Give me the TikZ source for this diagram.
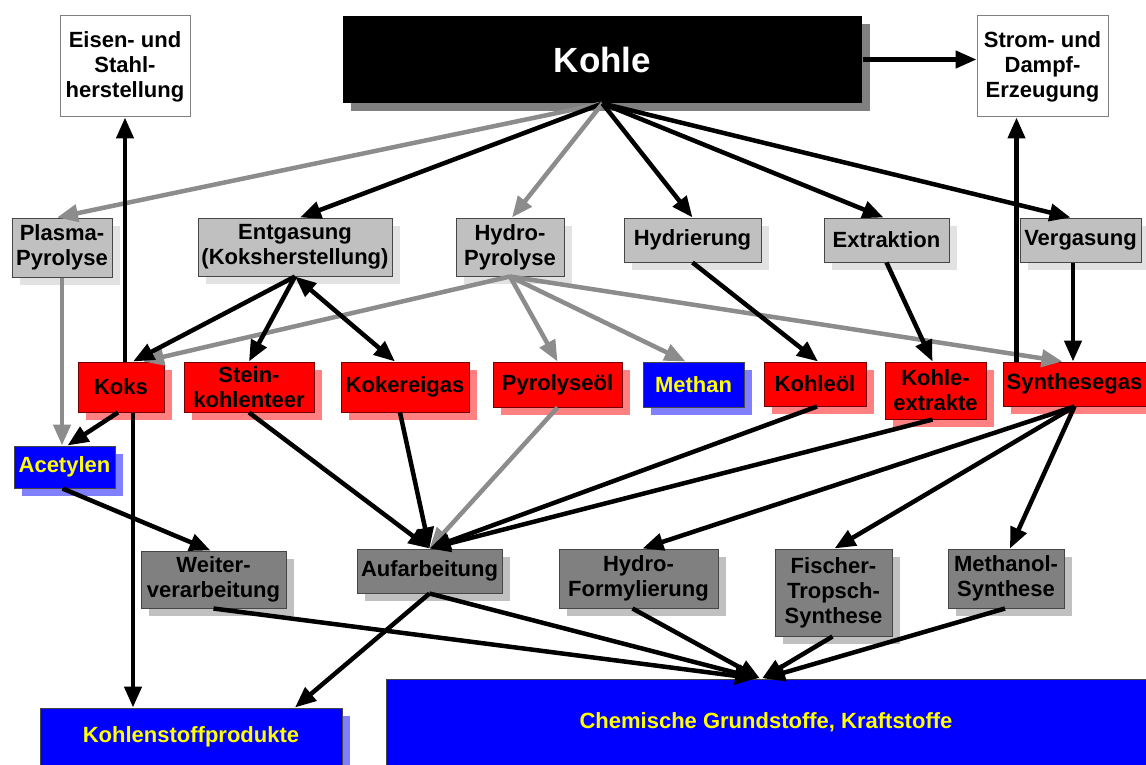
\documentclass[tikz,border=0pt]{standalone}
\usepackage{fontspec}
\setmainfont{Liberation Sans}
\usetikzlibrary{arrows.meta,shadows,calc}
\definecolor{lg}{RGB}{192,192,192}
\definecolor{lgs}{RGB}{226,226,226}
\definecolor{dg}{RGB}{128,128,128}
\definecolor{dgs}{RGB}{192,192,192}
\definecolor{rd}{RGB}{255,0,0}
\definecolor{rds}{RGB}{255,128,128}
\definecolor{bl}{RGB}{0,0,255}
\definecolor{bls}{RGB}{128,128,255}
\definecolor{yl}{RGB}{255,255,0}
\definecolor{ag}{RGB}{140,140,140}
\definecolor{bd}{RGB}{70,70,70}
\begin{document}
\begin{tikzpicture}[x=1pt,y=-1pt,
 box/.style={rectangle, inner sep=0pt, align=center, line width=1pt, font=\fontsize{22}{25}\selectfont\bfseries},
 sh/.style={drop shadow={shadow xshift=8pt, shadow yshift=-8pt, fill=#1, opacity=1}},
 wbox/.style={box, draw=dg, fill=white},
 lbox/.style={box, draw=bd, fill=lg, sh=lgs},
 dbox/.style={box, draw=bd, fill=dg, sh=dgs},
 rbox/.style={box, draw=rd!45!black, fill=rd, sh=rds},
 bbox/.style={box, draw=bd, fill=bl, sh=bls, text=yl},
 arr/.style={line width=4.5pt, -{Triangle[length=21pt,width=17pt]}},
 darr/.style={line width=4.5pt, {Triangle[length=21pt,width=17pt]}-{Triangle[length=21pt,width=17pt]}},
 garr/.style={arr, color=ag}
]
\useasboundingbox (0,0) rectangle (1146,765);
\fill[white] (0,0) rectangle (1146,765);

% top row
\node[box, fill=black, sh=dg, minimum width=519pt, minimum height=87pt, text=white, font=\fontsize{35}{40}\selectfont\bfseries] (kohle) at (602.5,59.5) {Kohle};
\node[wbox, minimum width=130pt, minimum height=101pt] (eisen) at (125,66.5) {Eisen- und\\Stahl-\\herstellung};
\node[wbox, minimum width=131pt, minimum height=101pt] (strom) at (1042.5,66.5) {Strom- und\\Dampf-\\Erzeugung};

% processes
\node[lbox, minimum width=100pt, minimum height=59pt] (plasma) at (62,247.5) {Plasma-\\Pyrolyse};
\node[lbox, minimum width=194pt, minimum height=58pt] (entg) at (295,247) {Entgasung\\(Koksherstellung)};
\node[lbox, minimum width=108pt, minimum height=58pt] (hpyr) at (510,247) {Hydro-\\Pyrolyse};
\node[lbox, minimum width=137pt, minimum height=44pt] (hydr) at (692.5,240) {Hydrierung};
\node[lbox, minimum width=125pt, minimum height=44pt] (extr) at (886.5,240) {Extraktion};
\node[lbox, minimum width=121pt, minimum height=44pt] (verg) at (1080.5,240) {Vergasung};

% intermediate products
\node[rbox, minimum width=86pt, minimum height=50pt] (koks) at (121,387) {Koks};
\node[rbox, minimum width=130pt, minimum height=50pt] (stein) at (249,387) {Stein-\\kohlenteer};
\node[rbox, minimum width=128pt, minimum height=50pt] (koker) at (405,387) {Kokereigas};
\node[rbox, minimum width=129pt, minimum height=45pt] (pyrol) at (557.5,384.5) {Pyrolyseöl};
\node[bbox, minimum width=101pt, minimum height=45pt] (methan) at (693.5,384.5) {Methan};
\node[rbox, minimum width=102pt, minimum height=44pt] (koel) at (815,384) {Kohleöl};
\node[rbox, minimum width=101pt, minimum height=57pt] (kextr) at (935.5,390.5) {Kohle-\\extrakte};
\node[rbox, minimum width=143pt, minimum height=44pt] (synth) at (1074.5,384) {Synthesegas};
\node[bbox, minimum width=101pt, minimum height=42pt] (acet) at (64.5,467) {Acetylen};

% further processing
\node[dbox, minimum width=145pt, minimum height=57pt] (weiter) at (213.5,579.5) {Weiter-\\verarbeitung};
\node[dbox, minimum width=145pt, minimum height=44pt] (auf) at (429.5,571) {Aufarbeitung};
\node[dbox, minimum width=159pt, minimum height=59pt] (hform) at (638.5,578.5) {Hydro-\\Formylierung};
\node[dbox, minimum width=117pt, minimum height=87pt] (fischer) at (833.5,592.5) {Fischer-\\Tropsch-\\Synthese};
\node[dbox, minimum width=116pt, minimum height=59pt] (methanol) at (1006,578.5) {Methanol-\\Synthese};

% end products
\node[bbox, minimum width=302pt, minimum height=58pt] (kprod) at (191,737) {Kohlenstoffprodukte};
\node[bbox, minimum width=760pt, minimum height=86pt] (chem) at (766,722) {Chemische Grundstoffe, Kraftstoffe};

% connectors from Kohle
\draw[garr] (kohle.south) -- ([xshift=-5pt]plasma.north);
\draw[arr] (kohle.south) -- ([xshift=5pt]entg.north);
\draw[garr] (kohle.south) -- ([xshift=2pt]hpyr.north);
\draw[arr] (kohle.south) -- (hydr.north);
\draw[arr] (kohle.south) -- ([xshift=-3pt]extr.north);
\draw[arr] (kohle.south) -- ([xshift=-10pt]verg.north);
\draw[arr] (kohle.east) -- (kohle.east -| strom.west);

% from processes
\draw[garr] (hpyr.south) -- ([xshift=22pt]koks.north);
\draw[garr] (hpyr.south) -- (pyrol.north);
\draw[garr] (hpyr.south) -- ([xshift=-8pt]methan.north);
\draw[garr] (hpyr.south) -- ([xshift=-12pt]synth.north);
\draw[arr] (entg.south) -- ([xshift=12pt]koks.north);
\draw[arr] (entg.south) -- (stein.north);
\draw[darr] (entg.south) -- ([xshift=-10pt]koker.north);
\draw[arr] (hydr.south) -- ([xshift=3pt]koel.north);
\draw[arr] (extr.south) -- ([xshift=-3pt]kextr.north);
\draw[arr] ([xshift=-1.5pt]synth.north |- verg.south) -- ([xshift=-1.5pt]synth.north);
\draw[arr] ([xshift=-58pt]synth.north) -- ([xshift=-58pt]synth.north |- strom.south);
\draw[arr] (koks.north -| eisen.south) -- (eisen.south);
\draw[garr] (plasma.south) -- (plasma.south |- acet.north);

% from products
\draw[arr] ([xshift=-3pt]koks.south) -- ([xshift=3pt]acet.north);
\draw[arr] ([xshift=12pt]koks.south) -- ([xshift=12pt]koks.south |- kprod.north);
\draw[arr] ([xshift=-2pt]acet.south) -- ([xshift=-3pt]weiter.north);
\draw[arr] (stein.south) -- (auf.north);
\draw[arr] ([xshift=-5pt]koker.south) -- (auf.north);
\draw[garr] (pyrol.south) -- (auf.north);
\draw[arr] ([xshift=2pt]koel.south) -- (auf.north);
\draw[arr] ([xshift=-3pt]kextr.south) -- (auf.north);
\draw[arr] (synth.south) -- ([xshift=4pt]hform.north);
\draw[arr] (synth.south) -- ([xshift=1pt]fischer.north);
\draw[arr] (synth.south) -- ([xshift=4pt]methanol.north);

% to end products
\draw[arr] (weiter.south) -- ([xshift=-10pt]chem.north);
\draw[arr] (auf.south) -- ([xshift=-8pt]chem.north);
\draw[arr] (auf.south) -- ([xshift=104pt]kprod.north);
\draw[arr] ([xshift=-6pt]hform.south) -- ([xshift=-6pt]chem.north);
\draw[arr] ([xshift=-1pt]fischer.south) -- ([xshift=-4pt]chem.north);
\draw[arr] ([xshift=-1pt]methanol.south) -- ([xshift=-2pt]chem.north);
\end{tikzpicture}
\end{document}
